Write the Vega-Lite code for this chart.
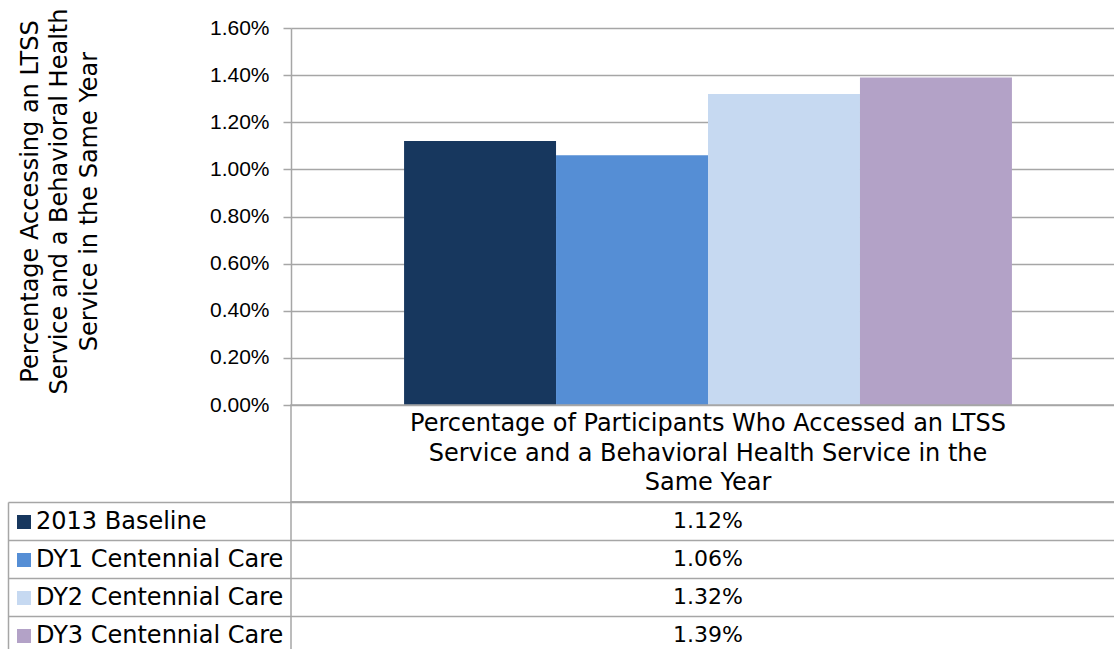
{
  "$schema": "https://vega.github.io/schema/vega-lite/v6.json",
  "autosize": {"type": "none"},
  "padding": {"left": 291, "top": 28, "right": 823, "bottom": 621},
  "background": "white",
  "bounds": "flush",
  "spacing": 0,
  "datasets": {
    "bars": [
      {"category": "Percentage of Participants Who Accessed an LTSS\nService and a Behavioral Health Service in the\nSame Year", "series": "2013 Baseline", "value": 0.0112},
      {"category": "Percentage of Participants Who Accessed an LTSS\nService and a Behavioral Health Service in the\nSame Year", "series": "DY1 Centennial Care", "value": 0.0106},
      {"category": "Percentage of Participants Who Accessed an LTSS\nService and a Behavioral Health Service in the\nSame Year", "series": "DY2 Centennial Care", "value": 0.0132},
      {"category": "Percentage of Participants Who Accessed an LTSS\nService and a Behavioral Health Service in the\nSame Year", "series": "DY3 Centennial Care", "value": 0.0139}
    ],
    "header": [
      {"category": "Percentage of Participants Who Accessed an LTSS\nService and a Behavioral Health Service in the\nSame Year"}
    ]
  },
  "config": {
    "view": {"stroke": null},
    "font": "DejaVu Sans",
    "legend": {
      "orient": "none",
      "legendX": -279,
      "legendY": 482,
      "title": null,
      "padding": 0,
      "symbolType": "square",
      "symbolSize": 196,
      "symbolStrokeWidth": 0,
      "labelFont": "DejaVu Sans",
      "labelFontSize": 24,
      "labelColor": "#000000",
      "labelOffset": 0,
      "labelLimit": 400,
      "rowPadding": 14
    }
  },
  "vconcat": [
    {
      "width": 834,
      "height": 377,
      "data": {"name": "bars"},
      "mark": {"type": "bar"},
      "encoding": {
        "x": {
          "field": "category",
          "type": "nominal",
          "scale": {"paddingInner": 0, "paddingOuter": 0.186},
          "axis": null
        },
        "xOffset": {
          "field": "series",
          "type": "nominal",
          "sort": ["2013 Baseline", "DY1 Centennial Care", "DY2 Centennial Care", "DY3 Centennial Care"],
          "scale": {"paddingInner": 0, "paddingOuter": 0}
        },
        "y": {
          "field": "value",
          "type": "quantitative",
          "scale": {"domain": [0, 0.016], "nice": false, "zero": true},
          "axis": {
            "values": [0, 0.002, 0.004, 0.006, 0.008, 0.010, 0.012, 0.014, 0.016],
            "format": ".2%",
            "grid": true,
            "gridColor": "#a6a6a6",
            "gridWidth": 1.5,
            "domain": true,
            "domainColor": "#a6a6a6",
            "domainWidth": 1.5,
            "ticks": true,
            "tickSize": 8,
            "tickColor": "#a6a6a6",
            "tickWidth": 1.5,
            "labelFont": "Liberation Sans",
            "labelFontSize": 21,
            "labelColor": "#000000",
            "labelPadding": 14,
            "title": ["Percentage Accessing an LTSS", "Service and a Behavioral Health", "Service in the Same Year"],
            "titleFont": "DejaVu Sans",
            "titleFontSize": 24,
            "titleFontWeight": "normal",
            "titleColor": "#000000",
            "titleAngle": 270,
            "titleAlign": "center",
            "titleBaseline": "alphabetic",
            "titleLineHeight": 29.5,
            "titleX": -254,
            "titleY": 173
          }
        },
        "color": {
          "field": "series",
          "type": "nominal",
          "scale": {
            "domain": ["2013 Baseline", "DY1 Centennial Care", "DY2 Centennial Care", "DY3 Centennial Care"],
            "range": ["#17375E", "#558ED5", "#C6D9F1", "#B3A2C7"]
          }
        }
      }
    },
    {
      "width": 834,
      "height": 97,
      "view": {"stroke": "#a6a6a6", "strokeWidth": 1.5},
      "data": {"name": "header"},
      "mark": {"type": "text", "lineBreak": "\n", "fontSize": 24, "font": "DejaVu Sans", "color": "#000000", "align": "center", "baseline": "middle", "lineHeight": 29.5, "dy": -29.5},
      "encoding": {
        "x": {"field": "category", "type": "nominal", "axis": null},
        "text": {"field": "category"}
      }
    },
    {
      "width": 834,
      "height": 152,
      "view": {"stroke": "#a6a6a6", "strokeWidth": 1.5},
      "data": {"name": "bars"},
      "mark": {"type": "text", "fontSize": 22, "font": "DejaVu Sans", "color": "#000000", "align": "center", "baseline": "middle"},
      "encoding": {
        "x": {"field": "category", "type": "nominal", "axis": null},
        "y": {
          "field": "series",
          "type": "nominal",
          "sort": ["2013 Baseline", "DY1 Centennial Care", "DY2 Centennial Care", "DY3 Centennial Care"],
          "scale": {"paddingInner": 0, "paddingOuter": 0},
          "axis": {
            "orient": "left",
            "offset": 283,
            "labels": false,
            "title": null,
            "grid": false,
            "domain": true,
            "domainColor": "#a6a6a6",
            "domainWidth": 1.5,
            "ticks": true,
            "tickBand": "extent",
            "tickSize": -1117,
            "tickColor": "#a6a6a6",
            "tickWidth": 1.5
          }
        },
        "text": {"field": "value", "type": "quantitative", "format": ".2%"}
      }
    }
  ]
}
